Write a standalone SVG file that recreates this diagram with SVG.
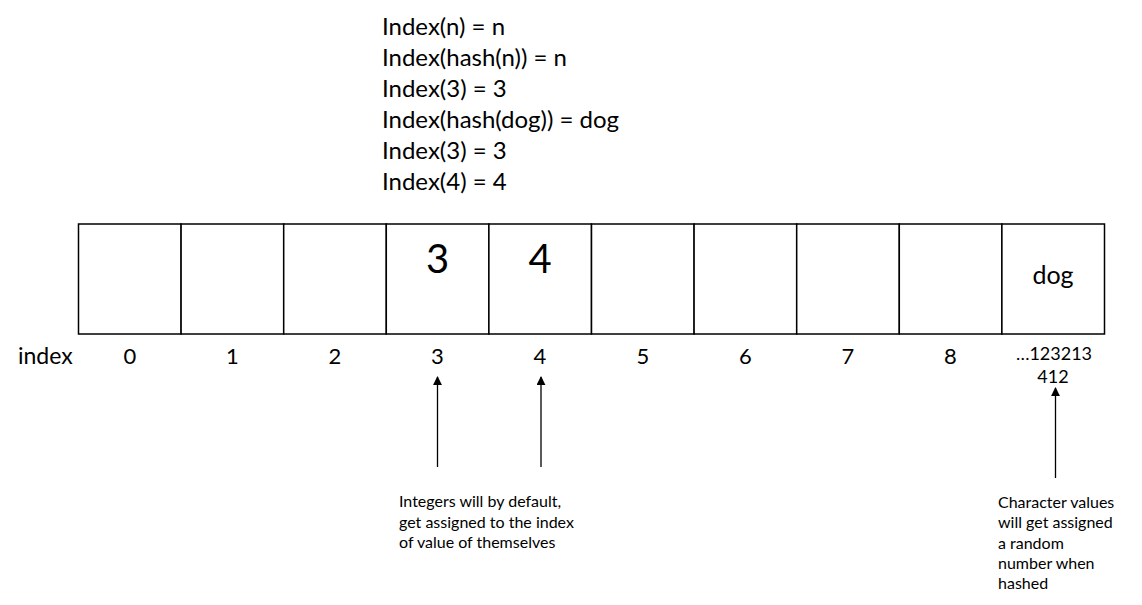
<svg xmlns="http://www.w3.org/2000/svg" width="1142" height="605" viewBox="0 0 1142 605">
<style>
text{font-family:Lato,"Open Sans","Liberation Sans",sans-serif;fill:#000}
.f{font-size:24px}
.ix{font-size:22px;text-anchor:middle}
.big{font-size:40px;text-anchor:middle}
.n{font-size:16px}
.cell{fill:#fff;stroke:#000;stroke-width:1.5}
.ar{stroke:#000;stroke-width:1.3;fill:none;marker-end:url(#ah)}
</style>
<defs>
<marker id="ah" viewBox="0 0 10 10" refX="9" refY="5" markerWidth="9" markerHeight="9" markerUnits="userSpaceOnUse" orient="auto">
<path d="M0,0 L10,5 L0,10 z" fill="#000"/>
</marker>
</defs>
<g id="formulas">
<text class="f" x="382" y="35">Index(n) = n</text>
<text class="f" x="382" y="66">Index(hash(n)) = n</text>
<text class="f" x="382" y="97">Index(3) = 3</text>
<text class="f" x="382" y="128">Index(hash(dog)) = dog</text>
<text class="f" x="382" y="159">Index(3) = 3</text>
<text class="f" x="382" y="190">Index(4) = 4</text>
</g>
<g id="array">
<rect id="cell0" class="cell" x="78.5" y="224" width="102.6" height="110"/>
<rect id="cell1" class="cell" x="181.1" y="224" width="102.6" height="110"/>
<rect id="cell2" class="cell" x="283.7" y="224" width="102.6" height="110"/>
<rect id="cell3" class="cell" x="386.3" y="224" width="102.6" height="110"/>
<rect id="cell4" class="cell" x="488.9" y="224" width="102.6" height="110"/>
<rect id="cell5" class="cell" x="591.5" y="224" width="102.6" height="110"/>
<rect id="cell6" class="cell" x="694.1" y="224" width="102.6" height="110"/>
<rect id="cell7" class="cell" x="796.7" y="224" width="102.6" height="110"/>
<rect id="cell8" class="cell" x="899.3" y="224" width="102.6" height="110"/>
<rect id="cell9" class="cell" x="1001.9" y="224" width="102.6" height="110"/>
<text class="big" x="437.5" y="273">3</text>
<text class="big" x="540" y="273">4</text>
<text x="1053" y="284" style="font-size:25px;text-anchor:middle">dog</text>
</g>
<g id="indices">
<text x="18" y="364" style="font-size:23px">index</text>
<text class="ix" x="130" y="364">0</text>
<text class="ix" x="232.5" y="364">1</text>
<text class="ix" x="335" y="364">2</text>
<text class="ix" x="437.5" y="364">3</text>
<text class="ix" x="540" y="364">4</text>
<text class="ix" x="643" y="364">5</text>
<text class="ix" x="745.5" y="364">6</text>
<text class="ix" x="848" y="364">7</text>
<text class="ix" x="950.5" y="364">8</text>
<text x="1054" y="360" style="font-size:18px;text-anchor:middle">…123213</text>
<text x="1053" y="383" style="font-size:18px;text-anchor:middle">412</text>
</g>
<g id="connectors">
<line class="ar" x1="437.5" y1="467" x2="437.5" y2="377"/>
<line class="ar" x1="541" y1="467" x2="541" y2="377"/>
<line class="ar" x1="1055.5" y1="478" x2="1055.5" y2="388"/>
</g>
<g id="note-integers">
<text class="n" x="399" y="507">Integers will by default,</text>
<text class="n" x="399" y="528">get assigned to the index</text>
<text class="n" x="399" y="548">of value of themselves</text>
</g>
<g id="note-chars">
<text class="n" x="998" y="508">Character values</text>
<text class="n" x="998" y="528">will get assigned</text>
<text class="n" x="998" y="549">a random</text>
<text class="n" x="998" y="569">number when</text>
<text class="n" x="998" y="589">hashed</text>
</g>
</svg>
